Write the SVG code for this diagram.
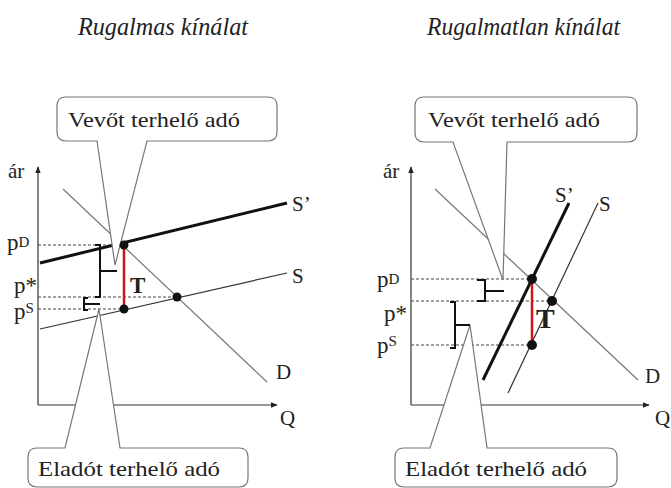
<svg xmlns="http://www.w3.org/2000/svg" width="671" height="488" viewBox="0 0 671 488">
<defs>
<marker id="arr" viewBox="0 0 10 10" refX="9" refY="5" markerWidth="7" markerHeight="7" markerUnits="userSpaceOnUse" orient="auto">
<path d="M0,1 L10,5 L0,9 Z" fill="#222"/>
</marker>
<style>
text{font-family:"Liberation Serif","Times New Roman",serif;fill:#222}
.title{font-style:italic;font-size:25px}
.lbl{font-size:21px}
.p{font-size:23px}
.sup{font-size:15px}
.axis{stroke:#333;stroke-width:1.2;fill:none}
.dash{stroke:#444;stroke-width:1;stroke-dasharray:3,2;fill:none}
.dem{stroke:#777;stroke-width:1.2;fill:none}
.sup-s{stroke:#333;stroke-width:1.2;fill:none}
.sup-t{stroke:#111;stroke-width:3;fill:none}
.tax{stroke:#d0141c;stroke-width:2.5}
.dot{fill:#111}
.call{fill:#fff;stroke:#777;stroke-width:1.2}
.brk{stroke:#111;stroke-width:2;fill:none}
.T{font-weight:bold}
</style>
</defs>
<rect width="671" height="488" fill="#fff"/>

<text class="title" x="78" y="35" textLength="170" lengthAdjust="spacingAndGlyphs">Rugalmas kínálat</text>
<text class="title" x="427" y="35" textLength="193" lengthAdjust="spacingAndGlyphs">Rugalmatlan kínálat</text>

<g id="connectors">
<!-- left chart -->
<path class="axis" d="M38,405 V167" marker-end="url(#arr)"/>
<path class="axis" d="M38,405 H277" marker-end="url(#arr)"/>
<path class="dash" d="M38,245 H124 M38,297 H177 M38,309 H124"/>
<path class="dem" d="M63,189 L267,382"/>
<path class="sup-s" d="M40,329 L287,273"/>
<path class="sup-t" d="M40,263 L287,203"/>
<!-- right chart -->
<path class="axis" d="M411,405 V167" marker-end="url(#arr)"/>
<path class="axis" d="M411,405 H649" marker-end="url(#arr)"/>
<path class="dash" d="M411,279 H532 M411,301 H552 M411,345 H532"/>
<path class="dem" d="M435,189 L638,380"/>
<path class="sup-s" d="M598,203 L508,393"/>
<path class="sup-t" d="M569,203 L483,380"/>
</g>

<g id="callout-left-buyer">
<path class="call" d="M66,97 H268 Q277,97 277,106 V132 Q277,141 268,141 H147 L115,265 L97,141 H66 Q57,141 57,132 V106 Q57,97 66,97 Z"/>
<text class="lbl" x="68" y="127" textLength="172" lengthAdjust="spacingAndGlyphs">Vevőt terhelő adó</text>
</g>
<g id="callout-left-seller">
<path class="call" d="M37,448 H65 L99,309 L120,448 H239 Q248,448 248,457 V478 Q248,487 239,487 H37 Q28,487 28,478 V457 Q28,448 37,448 Z"/>
<text class="lbl" x="38" y="476" textLength="182" lengthAdjust="spacingAndGlyphs">Eladót terhelő adó</text>
</g>
<g id="callout-right-buyer">
<path class="call" d="M424,97 H628 Q637,97 637,106 V133 Q637,142 628,142 H507 L503,280 L453,142 H424 Q415,142 415,133 V106 Q415,97 424,97 Z"/>
<text class="lbl" x="428" y="127" textLength="172" lengthAdjust="spacingAndGlyphs">Vevőt terhelő adó</text>
</g>
<g id="callout-right-seller">
<path class="call" d="M404,448 H430 L470,325 L487,448 H608 Q617,448 617,457 V478 Q617,487 608,487 H404 Q395,487 395,478 V457 Q395,448 404,448 Z"/>
<text class="lbl" x="405" y="476" textLength="182" lengthAdjust="spacingAndGlyphs">Eladót terhelő adó</text>
</g>

<g id="left-chart">
<path class="brk" d="M95,245 H100 V297 H95 M100,271 H117"/>
<path class="brk" d="M88,298 H84 V310 H88 M84,304 H100"/>
<line class="tax" x1="124" y1="245" x2="124" y2="309"/>
<circle class="dot" cx="124" cy="245" r="4.5"/>
<circle class="dot" cx="124" cy="309" r="4.5"/>
<circle class="dot" cx="177" cy="297" r="4.5"/>
<text class="lbl" x="8" y="178">ár</text>
<text class="p" x="7" y="250">p<tspan class="sup" dy="-3">D</tspan></text>
<text class="p" x="14" y="293">p*</text>
<text class="p" x="14" y="319">p<tspan class="sup" dy="-6">S</tspan></text>
<text class="lbl" x="292" y="211">S’</text>
<text class="lbl" x="292" y="283">S</text>
<text class="lbl" x="276" y="379">D</text>
<text class="lbl" x="280" y="425">Q</text>
<text class="lbl T" x="130" y="293" style="font-size:23px">T</text>
</g>

<g id="right-chart">
<path class="brk" d="M477,280 H485 V301 H477 M485,291 H504"/>
<path class="brk" d="M450,302 H455 V348 H450 M455,325 H470"/>
<line class="tax" x1="532" y1="279" x2="532" y2="345"/>
<circle class="dot" cx="532" cy="279" r="5"/>
<circle class="dot" cx="532" cy="345" r="5"/>
<circle class="dot" cx="552" cy="301" r="5"/>
<text class="lbl" x="383" y="178">ár</text>
<text class="p" x="377" y="287">p<tspan class="sup" dy="-3">D</tspan></text>
<text class="p" x="384" y="321">p*</text>
<text class="p" x="377" y="353">p<tspan class="sup" dy="-7">S</tspan></text>
<text class="lbl" x="555" y="202">S’</text>
<text class="lbl" x="599" y="211">S</text>
<text class="lbl" x="645" y="383">D</text>
<text class="lbl" x="655" y="425">Q</text>
<text class="lbl T" x="536" y="328" style="font-size:28px">T</text>
</g>
</svg>
